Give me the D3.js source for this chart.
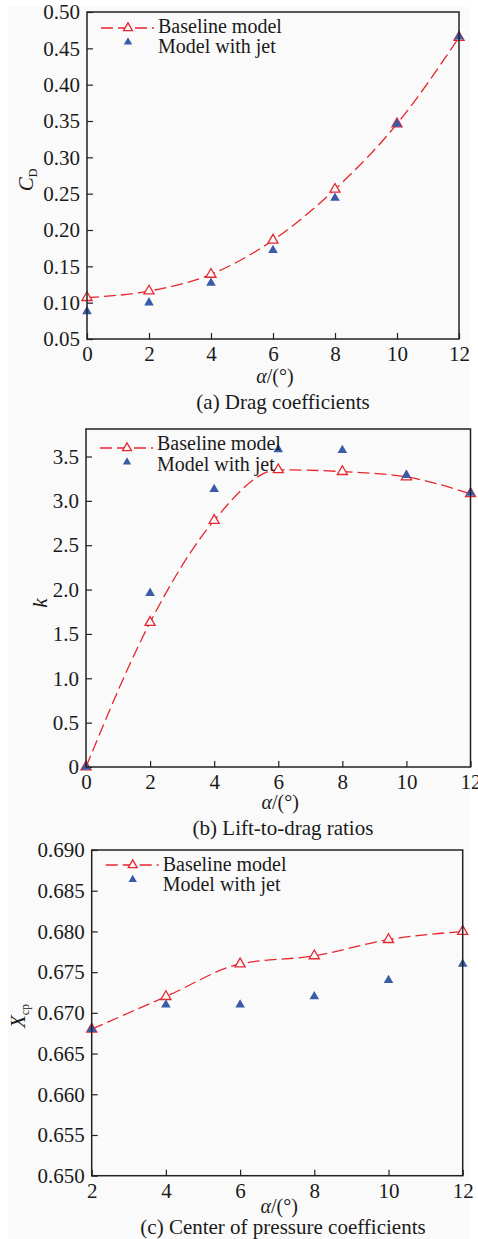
<!DOCTYPE html>
<html>
<head>
<meta charset="utf-8">
<script src="https://cdn.jsdelivr.net/npm/d3@7"></script>
<style>
  html, body { margin: 0; padding: 0; background: #ffffff; }
  svg { display: block; }
  text { font-family: "Liberation Serif", "Times New Roman", Times, serif; fill: #1a1a1a; }
</style>
</head>
<body>
<svg id="chart" width="478" height="1239"></svg>
<script>
// Angle of attack (deg)
const alpha = [0, 2, 4, 6, 8, 10, 12];
const alphaXcp = [2, 4, 6, 8, 10, 12];

// (a) Drag coefficients
const cdBaseline = [0.107, 0.116, 0.139, 0.186, 0.256, 0.346, 0.465];
const cdJet      = [0.088, 0.100, 0.127, 0.172, 0.244, 0.346, 0.466];

// (b) Lift-to-drag ratios
const kBaseline = [0, 1.63, 2.78, 3.35, 3.33, 3.27, 3.08];
const kJet      = [0, 1.96, 3.13, 3.58, 3.57, 3.29, 3.09];

// (c) Center of pressure coefficients
const xcpBaseline = [0.668, 0.672, 0.676, 0.677, 0.679, 0.680];
const xcpJet      = [0.668, 0.671, 0.671, 0.672, 0.674, 0.676];

// Tick values
const cdTicks  = [0.05, 0.10, 0.15, 0.20, 0.25, 0.30, 0.35, 0.40, 0.45, 0.50];
const kTicks   = [0, 0.5, 1.0, 1.5, 2.0, 2.5, 3.0, 3.5];
const xcpTicks = [0.650, 0.655, 0.660, 0.665, 0.670, 0.675, 0.680, 0.685, 0.690];
const alphaTicks    = [0, 2, 4, 6, 8, 10, 12];
const alphaTicksXcp = [2, 4, 6, 8, 10, 12];

const seriesNames = ["Baseline model", "Model with jet"];
const titles = ["(a) Drag coefficients", "(b) Lift-to-drag ratios", "(c) Center of pressure coefficients"];

const RED = "#e5262e";
const BLUE = "#3a5ca8";
const BG = "#fafafa";
const FONT = 21;
const LEGEND_FONT = 20;
const AXIS_TITLE_FONT = 20;

const svg = d3.select("#chart");
svg.append("rect").attr("x", 8).attr("y", 7).attr("width", 462).attr("height", 1232).attr("fill", BG);

const panels = [
  {
    box: { left: 87, right: 459, top: 12, bottom: 339 },
    xDomain: [0, 12], yDomain: [0.05, 0.50],
    xs: alpha, base: cdBaseline, jet: cdJet,
    xTicks: alphaTicks, yTicks: cdTicks, yFmt: d3.format(".2f"),
    yLabel: { main: "C", sub: "D", x: 33, y: 180 },
    legend: { line: 16, text1: 21, text2: 41, marker: 30 },
    axisLabelY: 383, titleY: 409, title: titles[0]
  },
  {
    box: { left: 86, right: 470.5, top: 429, bottom: 767 },
    xDomain: [0, 12], yDomain: [0, 3.81],
    xs: alpha, base: kBaseline, jet: kJet,
    xTicks: alphaTicks, yTicks: kTicks, yFmt: v => v === 0 ? "0" : d3.format(".1f")(v),
    yLabel: { main: "k", sub: "", x: 47, y: 603 },
    legend: { line: 19, text1: 21, text2: 42, marker: 33 },
    axisLabelY: 809, titleY: 835, title: titles[1]
  },
  {
    box: { left: 91.7, right: 462.7, top: 850, bottom: 1175.7 },
    xDomain: [2, 12], yDomain: [0.650, 0.690],
    xs: alphaXcp, base: xcpBaseline, jet: xcpJet,
    xTicks: alphaTicksXcp, yTicks: xcpTicks, yFmt: d3.format(".3f"),
    yLabel: { main: "X", sub: "cp", x: 25, y: 1016 },
    legend: { line: 15, text1: 21, text2: 41, marker: 29.5 },
    axisLabelY: 1213, titleY: 1234, title: titles[2]
  }
];

const openTri = d3.symbol().type(d3.symbolTriangle).size(44);
const fillTri = d3.symbol().type(d3.symbolTriangle).size(40);
const legendOpenTri = d3.symbol().type(d3.symbolTriangle).size(34);
const legendFillTri = d3.symbol().type(d3.symbolTriangle).size(30);

panels.forEach(p => {
  const b = p.box;
  const x = d3.scaleLinear().domain(p.xDomain).range([b.left, b.right]);
  const y = d3.scaleLinear().domain(p.yDomain).range([b.bottom, b.top]);
  const g = svg.append("g");

  // Axes with inward ticks
  const yAxis = d3.axisLeft(y).tickValues(p.yTicks).tickFormat(p.yFmt)
    .tickSizeInner(-6).tickSizeOuter(0).tickPadding(7);
  const xAxis = d3.axisBottom(x).tickValues(p.xTicks).tickFormat(d3.format("d"))
    .tickSizeInner(-6).tickSizeOuter(0).tickPadding(7);

  const ya = g.append("g").attr("transform", `translate(${b.left},0)`).call(yAxis);
  const xa = g.append("g").attr("transform", `translate(0,${b.bottom})`).call(xAxis);
  [ya, xa].forEach(a => {
    a.attr("font-family", null).attr("font-size", null);
    a.select(".domain").remove();
    a.selectAll(".tick line").attr("stroke", "#222").attr("stroke-width", 1.2);
    a.selectAll(".tick text").attr("font-size", FONT).attr("fill", "#1a1a1a");
  });

  // Baseline: smooth dashed curve
  const line = d3.line().x((d, i) => x(p.xs[i])).y(d => y(d)).curve(d3.curveMonotoneX);
  g.append("path").datum(p.base).attr("d", line)
    .attr("fill", "none").attr("stroke", RED).attr("stroke-width", 1.3)
    .attr("stroke-dasharray", "12,5");

  g.selectAll(".base-pt").data(p.base).join("path")
    .attr("transform", (d, i) => `translate(${x(p.xs[i])},${y(d)})`)
    .attr("d", openTri).attr("fill", BG).attr("stroke", RED).attr("stroke-width", 1.3);

  g.selectAll(".jet-pt").data(p.jet).join("path")
    .attr("transform", (d, i) => `translate(${x(p.xs[i])},${y(d)})`)
    .attr("d", fillTri).attr("fill", BLUE);

  // Plot frame
  g.append("rect").attr("x", b.left).attr("y", b.top)
    .attr("width", b.right - b.left).attr("height", b.bottom - b.top)
    .attr("fill", "none").attr("stroke", "#222").attr("stroke-width", 1.5);

  // Legend
  const lx = b.left + 14, lm = b.left + 41, lt = b.left + 71;
  g.append("line").attr("x1", lx).attr("x2", b.left + 67)
    .attr("y1", b.top + p.legend.line).attr("y2", b.top + p.legend.line)
    .attr("stroke", RED).attr("stroke-width", 1.3).attr("stroke-dasharray", "12,5");
  g.append("path").attr("transform", `translate(${lm},${b.top + p.legend.line})`)
    .attr("d", legendOpenTri).attr("fill", BG).attr("stroke", RED).attr("stroke-width", 1.3);
  g.append("path").attr("transform", `translate(${lm},${b.top + p.legend.marker})`)
    .attr("d", legendFillTri).attr("fill", BLUE);
  g.append("text").attr("x", lt).attr("y", b.top + p.legend.text1).attr("font-size", LEGEND_FONT).text(seriesNames[0]);
  g.append("text").attr("x", lt).attr("y", b.top + p.legend.text2).attr("font-size", LEGEND_FONT).text(seriesNames[1]);

  // Y-axis label
  const yl = g.append("text").attr("transform", `translate(${p.yLabel.x},${p.yLabel.y}) rotate(-90)`)
    .attr("text-anchor", "middle").attr("font-size", FONT);
  yl.append("tspan").attr("font-style", "italic").text(p.yLabel.main);
  if (p.yLabel.sub) {
    yl.append("tspan").attr("font-size", 12).attr("dy", 4).text(p.yLabel.sub);
  }

  // X-axis label
  const cx = (b.left + b.right) / 2 + 2;
  const xl = g.append("text").attr("x", cx).attr("y", p.axisLabelY)
    .attr("text-anchor", "middle").attr("font-size", AXIS_TITLE_FONT);
  xl.append("tspan").attr("font-style", "italic").text("α");
  xl.append("tspan").text("/(°)");

  // Panel caption
  g.append("text").attr("x", 283).attr("y", p.titleY)
    .attr("text-anchor", "middle").attr("font-size", FONT).text(p.title);
});
</script>
</body>
</html>
